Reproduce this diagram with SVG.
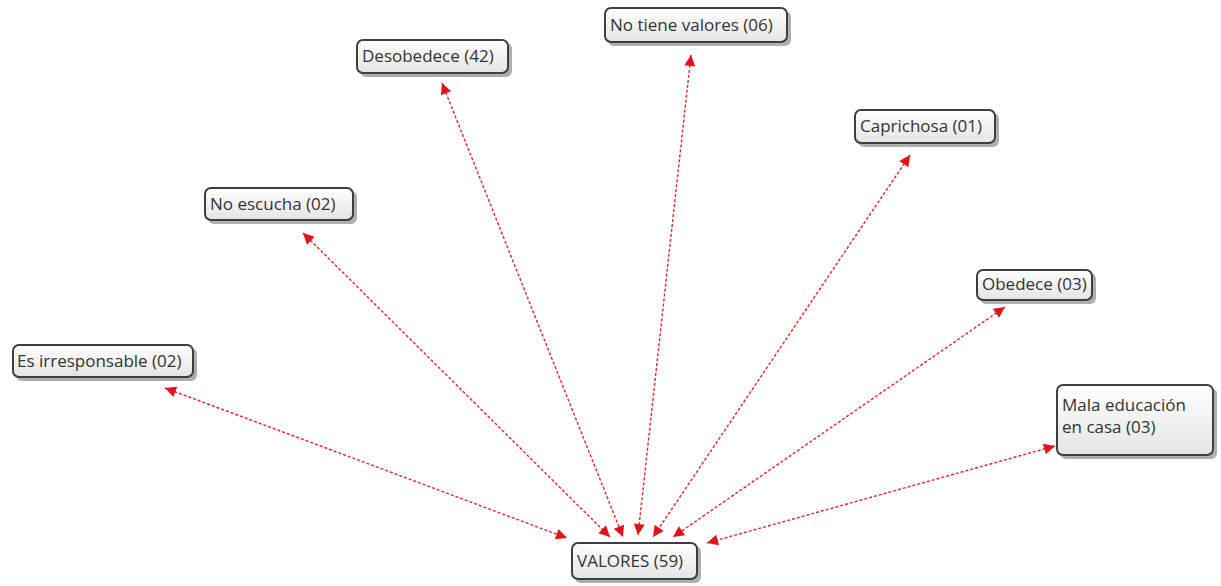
<svg xmlns="http://www.w3.org/2000/svg" width="1221" height="586" viewBox="0 0 1221 586">
<style>
.box{fill:url(#g);stroke:#3e3e3e;stroke-width:2}
.sh{fill:#7a7a7a;opacity:.6}
.t{font-family:"Open Sans","Noto Sans",sans-serif;font-size:17px;fill:#333}
.c{stroke:#e0262a;stroke-width:1.4;stroke-dasharray:3 2;fill:none;marker-start:url(#a);marker-end:url(#a)}
</style>
<defs>
<linearGradient id="g" x1="0" y1="0" x2="0" y2="1"><stop offset="0" stop-color="#ffffff"/><stop offset="1" stop-color="#e4e4e4"/></linearGradient>
<marker id="a" viewBox="0 0 10 10" refX="10" refY="5" markerWidth="13" markerHeight="11" markerUnits="userSpaceOnUse" orient="auto-start-reverse"><path d="M0,0L10,5L0,10z" fill="#e0141a"/></marker>
</defs>
<rect width="1221" height="586" fill="#fff"/>
<g id="connectors">
<line class="c" x1="165" y1="388" x2="567" y2="538"/>
<line class="c" x1="303" y1="233" x2="610" y2="537"/>
<line class="c" x1="442" y1="83" x2="623" y2="537"/>
<line class="c" x1="691" y1="55" x2="638" y2="535"/>
<line class="c" x1="910" y1="155" x2="653" y2="537"/>
<line class="c" x1="1005" y1="307" x2="673" y2="537"/>
<line class="c" x1="1055" y1="446" x2="707" y2="543"/>
</g>
<g id="n-valores"><rect class="sh" x="575" y="546" width="126" height="37" rx="6"/><rect class="box" x="572" y="543" width="125" height="36" rx="6"/><text class="t" x="577" y="567">VALORES (59)</text></g>
<g id="n-irresponsable"><rect class="sh" x="16" y="348" width="181" height="33" rx="6"/><rect class="box" x="13" y="345" width="180" height="32" rx="6"/><text class="t" x="17" y="367">Es irresponsable (02)</text></g>
<g id="n-escucha"><rect class="sh" x="208" y="191" width="149" height="33" rx="6"/><rect class="box" x="205" y="188" width="148" height="32" rx="6"/><text class="t" x="210" y="210">No escucha (02)</text></g>
<g id="n-desobedece"><rect class="sh" x="360" y="43" width="152" height="34" rx="6"/><rect class="box" x="357" y="40" width="151" height="33" rx="6"/><text class="t" x="362" y="62">Desobedece (42)</text></g>
<g id="n-notiene"><rect class="sh" x="608" y="11" width="183" height="35" rx="6"/><rect class="box" x="605" y="8" width="182" height="34" rx="6"/><text class="t" x="610" y="31">No tiene valores (06)</text></g>
<g id="n-caprichosa"><rect class="sh" x="858" y="113" width="141" height="34" rx="6"/><rect class="box" x="855" y="110" width="140" height="33" rx="6"/><text class="t" x="860" y="132">Caprichosa (01)</text></g>
<g id="n-obedece"><rect class="sh" x="980" y="273" width="116" height="31" rx="6"/><rect class="box" x="977" y="270" width="115" height="30" rx="6"/><text class="t" x="982" y="290">Obedece (03)</text></g>
<g id="n-mala"><rect class="sh" x="1060" y="388" width="157" height="71" rx="6"/><rect class="box" x="1057" y="385" width="156" height="70" rx="6"/><text class="t" x="1062" y="411">Mala educación</text><text class="t" x="1062" y="433">en casa (03)</text></g>
</svg>
